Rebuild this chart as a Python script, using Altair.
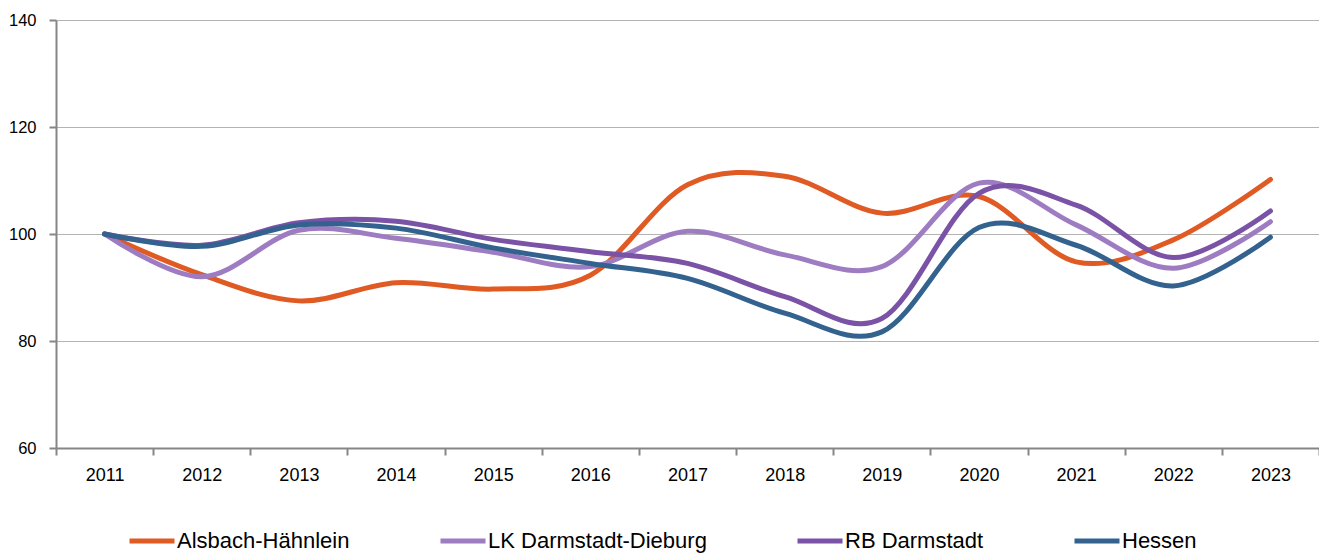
import altair as alt
import pandas as pd

years = [str(y) for y in range(2011, 2024)]
alsbach = [100, 92.4, 87.5, 90.9, 89.7, 92.3, 109.2, 110.8, 103.9, 107.0, 94.8, 98.9, 110.2]
lk = [100, 92.0, 100.7, 99.2, 96.6, 93.9, 100.5, 96.1, 93.9, 109.5, 101.7, 93.6, 102.3]
rb = [100, 97.9, 102.1, 102.4, 99.0, 96.7, 94.5, 88.3, 84.2, 107.6, 105.4, 95.6, 104.3]
hessen = [100, 97.7, 101.7, 101.1, 97.4, 94.5, 91.7, 85.2, 81.7, 101.2, 97.9, 90.3, 99.4]

series = ["Alsbach-Hähnlein", "LK Darmstadt-Dieburg", "RB Darmstadt", "Hessen"]
colors = ["#E05A24", "#9E7CC1", "#7A52A6", "#33628F"]
y_ticks = [60, 80, 100, 120, 140]

rows = []
for name, vals in zip(series, [alsbach, lk, rb, hessen]):
    for yr, v in zip(years, vals):
        rows.append({"Jahr": yr, "Wert": v, "Reihe": name, "order": series.index(name)})
df = pd.DataFrame(rows)

FONT = "Liberation Sans"

chart = alt.Chart(df).mark_line(
    interpolate="cardinal", strokeWidth=5, strokeCap="round", strokeJoin="round"
).encode(
    x=alt.X("Jahr:O", bandPosition=0.5,
            scale=alt.Scale(type="band", paddingInner=0, paddingOuter=0),
            axis=alt.Axis(title=None, labelAngle=0, tickBand="extent", grid=False,
                          domainColor="#868686", domainWidth=2, tickColor="#868686",
                          tickWidth=2, tickSize=7, labelPadding=11, labelFontSize=18,
                          labelFont=FONT, labelColor="#000000")),
    y=alt.Y("Wert:Q", scale=alt.Scale(domain=[60, 140], nice=False, zero=False),
            axis=alt.Axis(title=None, values=y_ticks, grid=True, gridColor="#B3B3B3",
                          gridWidth=1.2, domainColor="#868686", domainWidth=2,
                          tickColor="#868686", tickWidth=2, tickSize=7, labelPadding=13,
                          labelFontSize=16.5, labelFont=FONT, labelColor="#000000")),
    color=alt.Color("Reihe:N", scale=alt.Scale(domain=series, range=colors),
                    legend=alt.Legend(title=None, orient="none", direction="horizontal",
                                      columns=4, legendX=71, legendY=496,
                                      symbolType="stroke", symbolSize=2025,
                                      symbolStrokeWidth=5, labelFont=FONT,
                                      labelFontSize=22, labelColor="#000000",
                                      columnPadding=80, labelOffset=0,
                                      labelLimit=400)),
    order=alt.Order("order:Q"),
).properties(
    width=1263, height=428,
    autosize=alt.AutoSizeParams(type="none"),
    padding={"left": 48, "top": 12, "right": 0, "bottom": 107},
).configure_view(stroke=None)

chart.save("out.html", embed_options={"renderer": "svg", "actions": False})
